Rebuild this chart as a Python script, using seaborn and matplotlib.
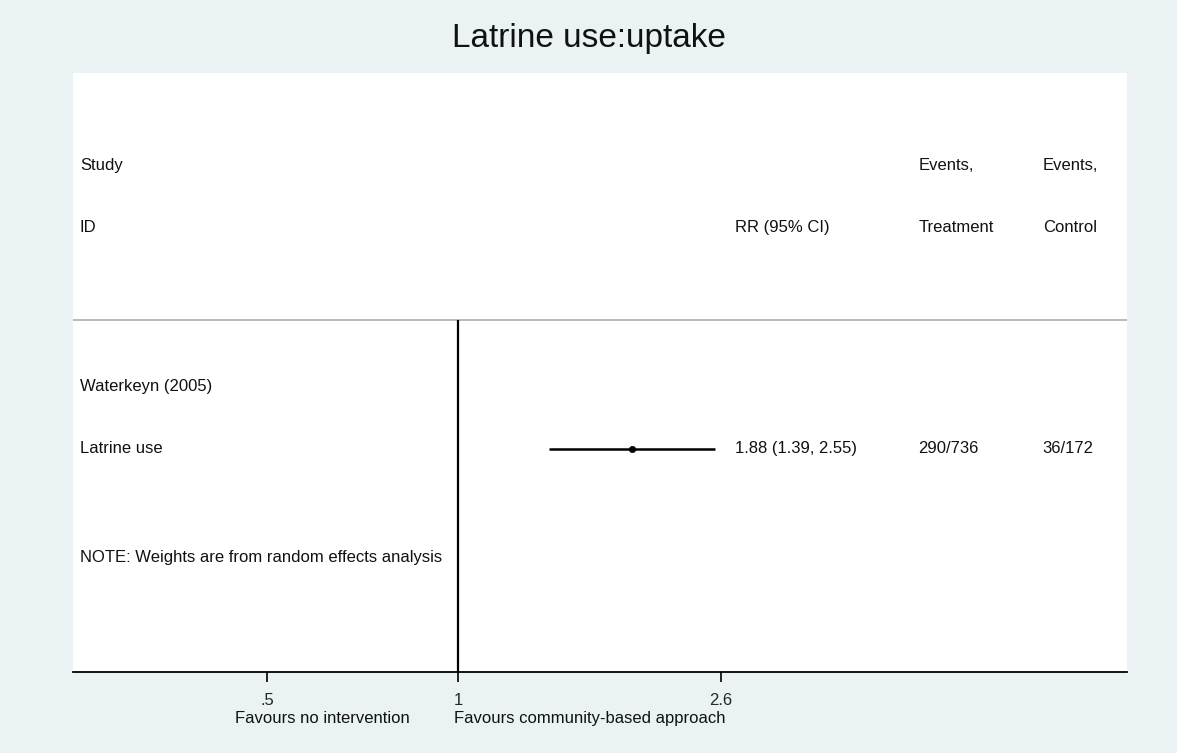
import pandas as pd
import matplotlib
matplotlib.use('Agg')
import matplotlib.pyplot as plt
from matplotlib.ticker import NullLocator
import seaborn as sns

# Data
title = 'Latrine use:uptake'
study_group = 'Waterkeyn (2005)'
outcomes = ['Latrine use']
rr = [1.88]
rr_low = [1.39]
rr_high = [2.55]
events_treatment = ['290/736']
events_control = ['36/172']
x_ticks = [0.5, 1, 2.6]
x_tick_labels = ['.5', '1', '2.6']
favours_left = 'Favours no intervention'
favours_right = 'Favours community-based approach'
note = 'NOTE: Weights are from random effects analysis'

# Row layout (row units, top to bottom)
row_head1, row_head2, row_sep, row_group, row_note = 0, 1, 2.48, 3.56, 6.32
outcome_rows = [4.56]
y_top, y_bottom = -1.5, 8.16

df = pd.DataFrame({'outcome': outcomes, 'rr': rr, 'lo': rr_low, 'hi': rr_high,
                   'row': outcome_rows})

sns.set_style('white')
plt.rcParams['font.family'] = ['Liberation Sans', 'DejaVu Sans']

bg = '#eaf2f3'
fs = 12
fig = plt.figure(figsize=(11.77, 7.53), dpi=100, facecolor=bg)
ax = fig.add_axes([0.062, 0.1076, 0.8955, 0.7955])
ax.set_facecolor('white')

# CI lines and point estimates
ax.hlines(df['row'], df['lo'], df['hi'], color='black', lw=1.8, zorder=2)
sns.scatterplot(data=df, x='rr', y='row', color='black', s=22, edgecolor='black',
                ax=ax, zorder=3, legend=False)

ax.set_xscale('log')
ax.set_xlim(0.2466, 11.39)
ax.set_ylim(y_bottom, y_top)

# header separator and line of no effect
ax.axhline(row_sep, color='#b4b4b4', lw=1.3, zorder=1)
ax.vlines(1, row_sep, y_bottom, color='black', lw=1.6, zorder=2)

# axis styling
for side in ['top', 'left', 'right']:
    ax.spines[side].set_visible(False)
ax.spines['bottom'].set_color('black')
ax.spines['bottom'].set_linewidth(1.3)
ax.set_xticks(x_ticks)
ax.set_xticklabels(x_tick_labels)
ax.xaxis.set_minor_locator(NullLocator())
ax.set_yticks([])
ax.tick_params(axis='x', direction='out', length=7, width=1.2, color='black',
               labelsize=fs, pad=8, bottom=True)
ax.set_xlabel('')
ax.set_ylabel('')

# text columns (x in axes fraction, y in data rows)
tr = ax.get_yaxis_transform()
col_study, col_rr, col_trt, col_ctl = 0.0066, 0.628, 0.802, 0.920
tc = '#111111'
ax.text(col_study, row_head1, 'Study', transform=tr, fontsize=fs, va='center', color=tc)
ax.text(col_study, row_head2, 'ID', transform=tr, fontsize=fs, va='center', color=tc)
ax.text(col_rr, row_head2, 'RR (95% CI)', transform=tr, fontsize=fs, va='center', color=tc)
ax.text(col_trt, row_head1, 'Events,', transform=tr, fontsize=fs, va='center', color=tc)
ax.text(col_trt, row_head2, 'Treatment', transform=tr, fontsize=fs, va='center', color=tc)
ax.text(col_ctl, row_head1, 'Events,', transform=tr, fontsize=fs, va='center', color=tc)
ax.text(col_ctl, row_head2, 'Control', transform=tr, fontsize=fs, va='center', color=tc)
ax.text(col_study, row_group, study_group, transform=tr, fontsize=fs, va='center', color=tc)

for i, r in df.iterrows():
    ax.text(col_study, r['row'], r['outcome'], transform=tr, fontsize=fs, va='center', color=tc)
    ax.text(col_rr, r['row'], f"{r['rr']:.2f} ({r['lo']:.2f}, {r['hi']:.2f})",
            transform=tr, fontsize=fs, va='center', color=tc)
    ax.text(col_trt, r['row'], events_treatment[i], transform=tr, fontsize=fs, va='center', color=tc)
    ax.text(col_ctl, r['row'], events_control[i], transform=tr, fontsize=fs, va='center', color=tc)

ax.text(col_study, row_note, note, transform=tr, fontsize=fs, va='center', color=tc)

# favours labels under the axis
xt = ax.get_xaxis_transform()
ax.text(0.84, -0.0785, favours_left, transform=xt, fontsize=fs, ha='right', va='center', color=tc)
ax.text(0.986, -0.0785, favours_right, transform=xt, fontsize=fs, ha='left', va='center', color=tc)

fig.text(0.5, 1 - 38 / 753, title, fontsize=24, ha='center', va='center', color='#111111')

fig.savefig('out.png', dpi=100, facecolor=bg)
